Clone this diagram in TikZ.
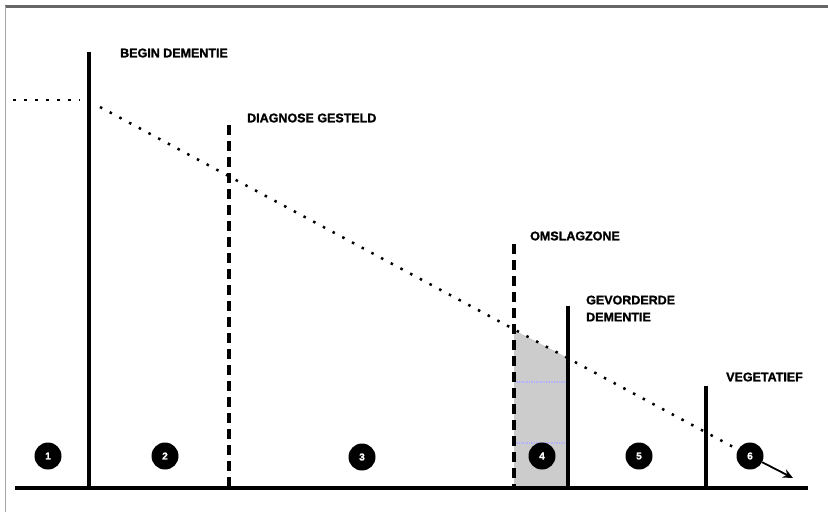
\documentclass[tikz,border=0pt]{standalone}
\usepackage{fontspec}
\usetikzlibrary{arrows.meta}
\newfontfamily\labfont{Liberation Sans}[BoldFeatures={FakeBold=1.5}]
\begin{document}
\begin{tikzpicture}[x=1pt,y=-1pt,
  lab/.style={font=\labfont\bfseries\fontsize{12.5}{17}\selectfont, anchor=west, inner sep=0pt, align=left},
  num/.style={circle, fill=black, minimum size=27pt, inner sep=0pt, text=white, font=\labfont\bfseries\fontsize{10}{10}\selectfont},
  solidbar/.style={line width=3.5pt},
  dashbar/.style={line width=3.5pt, dash pattern=on 10pt off 6pt},
  trend/.style={line width=2.5pt, dash pattern=on 2.5pt off 8.5pt},
  zoneline/.style={blue!30!white, line width=1.3pt, dash pattern=on 1.5pt off 1pt}
]
\useasboundingbox (0,0) rectangle (828,512);
\fill[white] (0,0) rectangle (828,512);
% frame
\draw[gray!80!black, line width=3pt] (5,6) -- (828,6);
\draw[gray!70, line width=1pt] (5,6) -- (5,512);
% shaded turning zone
\fill[gray!40] (514,330) -- (568,358) -- (568,486) -- (514,486) -- cycle;
\draw[zoneline] (516,382) -- (566,382);
\draw[zoneline] (516,443) -- (566,443);
% baseline
\coordinate (axL) at (15,488);
\coordinate (axR) at (808,488);
\draw[line width=4.5pt] (axL) -- (axR);
% bar coordinates
\coordinate (b1t) at (89,52);  \coordinate (b1b) at (89,486);
\coordinate (b2t) at (229,125); \coordinate (b2b) at (229,486);
\coordinate (b3t) at (514,244); \coordinate (b3b) at (514,486);
\coordinate (b4t) at (568,306); \coordinate (b4b) at (568,486);
\coordinate (b5t) at (706,386); \coordinate (b5b) at (706,486);
\draw[solidbar] (b1t) -- (b1b);
\draw[dashbar] (b2t) -- (b2b);
\draw[dashbar] (b3t) -- (b3b);
\draw[solidbar] (b4t) -- (b4b);
\draw[solidbar] (b5t) -- (b5b);
% labels
\node[lab] (l1) at (120,53) {BEGIN DEMENTIE};
\node[lab] (l2) at (247,118) {DIAGNOSE GESTELD};
\node[lab] (l3) at (530,236) {OMSLAGZONE};
\node[lab] (l4) at (586,308.5) {GEVORDERDE\\DEMENTIE};
\node[lab] (l5) at (726,377) {VEGETATIEF};
% phase circles
\node[num] (c1) at (48,456) {1};
\node[num] (c2) at (165,456) {2};
\node[num] (c3) at (362,457) {3};
\node[num] (c4) at (542,456) {4};
\node[num] (c5) at (639,456) {5};
\node[num] (c6) at (750,456) {6};
% trend line
\coordinate (t0) at (13,100);
\coordinate (t1) at (80,100);
\coordinate (t2) at (100,107);
\coordinate (tend) at (793,478);
\draw[trend] (t0) -- (t1);
\draw[trend] (t2) -- (c6);
\draw[line width=1.8pt, -{Stealth[length=10pt,width=9pt]}] (c6) -- (tend);
\end{tikzpicture}
\end{document}
